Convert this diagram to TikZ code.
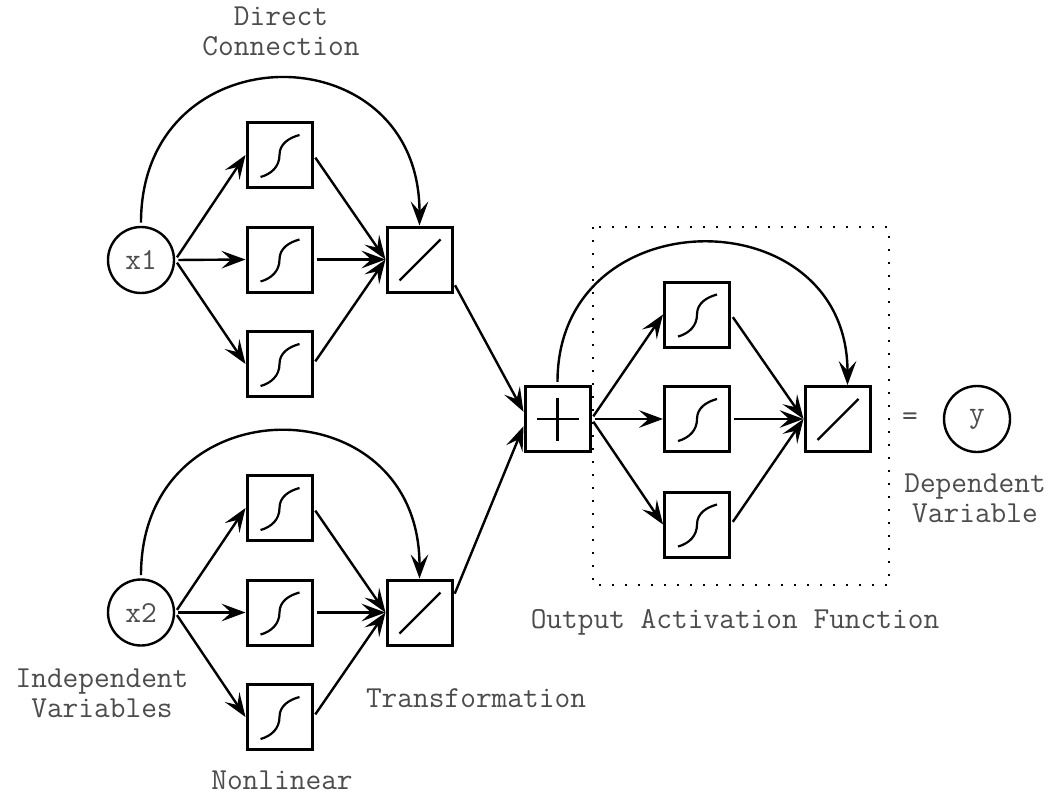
\documentclass[tikz,border=0pt]{standalone}
\usetikzlibrary{arrows.meta}

\tikzset{
  caixa/.style={draw, line width=0.75mm, minimum size=16.25mm, inner sep=0pt},
  entrada/.style={draw, circle, line width=0.6mm, minimum size=16.5mm, inner sep=0pt, text=black!70},
  rotulo/.style={align=center, text=black!70},
  seta/.style={line width=0.6mm, shorten <=0.8mm, -{Stealth[length=6mm,width=4.4mm,inset=2.4mm]}},
  traco/.style={line width=0.55mm}
}

\begin{document}
\begin{tikzpicture}[x=0.25mm, y=-0.25mm, font=\ttfamily\fontsize{21.7}{21.5}\selectfont] %1 unidade = 1 pixel
    \useasboundingbox (0,0) rectangle (1054,798);
        %Primeira entrada
    \node[entrada] (x1) at (141,260) {x1};
    \node[caixa] (s11) at (279.5,155) {};
    \node[caixa] (s12) at (279.5,259.5) {};
    \node[caixa] (s13) at (279.5,364) {};
    \node[caixa] (l1) at (419.5,259.5) {};
        %Segunda entrada
    \node[entrada] (x2) at (141,612.5) {x2};
    \node[caixa] (s21) at (279.5,508) {};
    \node[caixa] (s22) at (279.5,612.5) {};
    \node[caixa] (s23) at (279.5,717) {};
    \node[caixa] (l2) at (419.5,612.5) {};
        %Camada de saida
    \draw[dash pattern=on 0.5mm off 2.75mm, line width=0.45mm] (593,227) rectangle (889,585); %Caixa pontilhada
    \node[caixa] (soma) at (557.5,419) {};
    \node[caixa] (s31) at (697,314.5) {};
    \node[caixa] (s32) at (697,419) {};
    \node[caixa] (s33) at (697,524.5) {};
    \node[caixa] (l3) at (837.5,419) {};
    \node[rotulo] (igual) at (910,419) {=};
    \node[entrada] (y) at (977,419) {y};
        %Simbolos dentro das caixas
    \foreach \s in {s11,s12,s13,s21,s22,s23,s31,s32,s33}
        \draw[traco, shift={(\s.center)}] (-19,22) to[out=15,in=-90] (0,0) to[out=90,in=195] (20,-20); %Sigmoide
    \foreach \l in {l1,l2,l3}
        \draw[traco, shift={(\l.center)}] (-20,21) -- (21,-20); %Linear
    \draw[traco, shift={(soma.center)}] (-21,0) -- (21,0) (0,-21) -- (0,22); %Soma
        %Ligacoes
    \foreach \i/\n in {x1/1,x2/2}{
        \foreach \k in {1,2,3}{
            \draw[seta] (\i.east) -- (s\n\k.west);
            \draw[seta] (s\n\k.east) -- (l\n.west);
        }
        \draw[seta] (\i.north) to[out=90,in=90,looseness=1.8] (l\n.north); %Conexao direta
    }
    \foreach \k in {1,2,3}{
        \draw[seta] (soma.east) -- (s3\k.west);
        \draw[seta] (s3\k.east) -- (l3.west);
    }
    \draw[seta] (soma.north) to[out=90,in=90,looseness=1.67] ([xshift=2.5mm]l3.north);
    \draw[seta] (l1.-34) -- (soma.168);
    \draw[seta] (l2.25) -- (soma.192);
        %Textos
    \node[rotulo] (tdireta) at (281,31) {Direct\\Connection};
    \node[rotulo] (tindep) at (102,693) {Independent\\Variables};
    \node[rotulo] (ttransf) at (476,698) {Transformation};
    \node[rotulo] (tnaolin) at (282,780) {Nonlinear};
    \node[rotulo] (tsaida) at (735,622) {Output Activation Function};
    \node[rotulo] (tdep) at (975,498) {Dependent\\Variable};
\end{tikzpicture}
\end{document}
